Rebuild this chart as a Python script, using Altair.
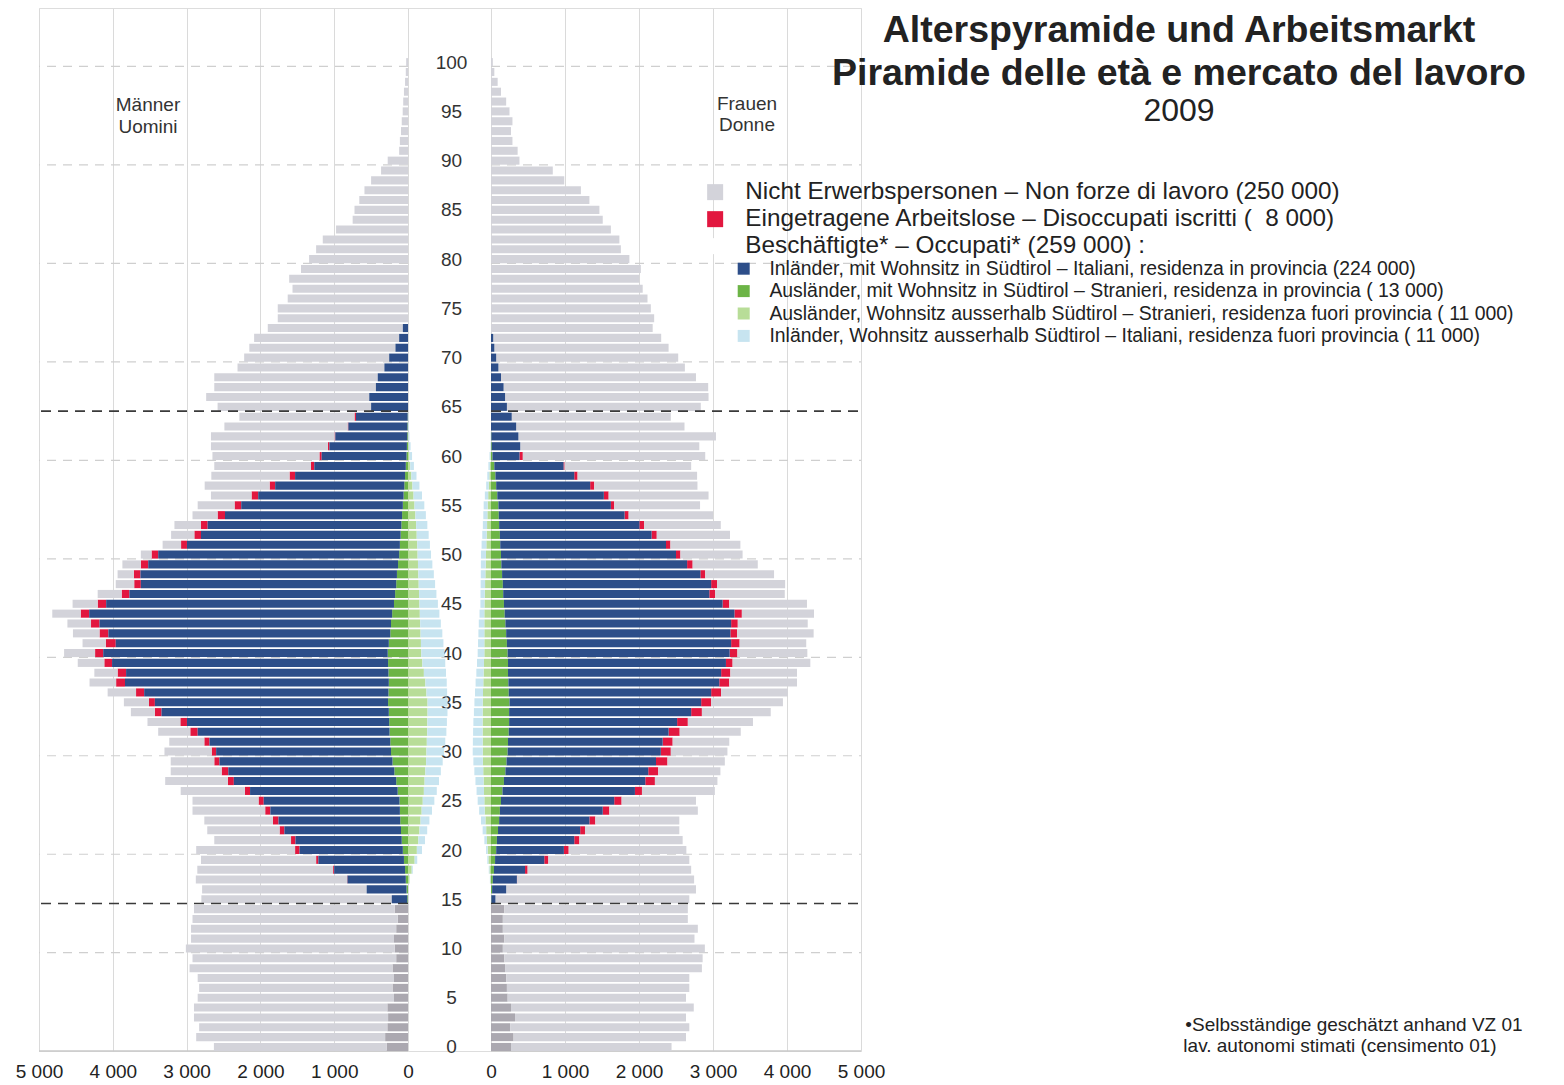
import altair as alt
import pandas as pd

FONT = "Liberation Sans"

ages = list(range(0, 101))
x_ticks = [0, 1000, 2000, 3000, 4000, 5000]
grid_ages = [10, 20, 30, 40, 50, 60, 70, 80, 90, 100]
limit_ages = [15, 65]

# ---------------- Männer / Uomini (per single year of age 0..100) ----------------
m_kinder = [290, 310, 280, 270, 280, 190, 210, 190, 210, 160, 180, 190, 160, 140, 180] + [0] * 86
m_nicht = [2340, 2560, 2550, 2630, 2620, 2660, 2620, 2660, 2750, 2760, 2830, 2750, 2780, 2780, 2720,
           2580, 2230, 2050, 1840, 1560, 1340, 1040, 980, 930, 985,
           895, 870, 850, 690, 590, 640, 475, 435, 445, 325,
           340, 385, 360, 315, 360, 420, 315, 360, 320, 385,
           340, 325, 250, 220, 250, 145, 250, 315, 360, 340,
           500, 550, 880, 1060, 1310, 1450, 1585, 1675, 1670, 1560,
           2080, 2210, 2190, 2215, 1990, 1965, 1980, 1965, 1830, 1765,
           1765, 1630, 1565, 1610, 1450, 1340, 1245, 1155, 975, 750,
           725, 660, 590, 500, 365, 275, 120, 110, 95, 85,
           72, 65, 55, 40, 30, 25]
m_arbeitslos = [0] * 15 + [0, 0, 5, 15, 30, 60, 60, 65, 75, 70,
                           70, 70, 80, 90, 70, 60, 70, 100, 90, 90,
                           80, 110, 120, 115, 105, 110, 135, 120, 115, 115,
                           115, 105, 90, 90, 100, 90, 80, 90, 90, 100,
                           90, 90, 75, 75, 45, 30, 20, 10, 10, 20] + [0] * 36
m_inl_res = [0] * 15 + [210, 540, 790, 960, 1160, 1400, 1440, 1580, 1650, 1755,
                        1840, 2000, 2200, 2250, 2345, 2370, 2450, 2600, 2740, 3080,
                        3160, 3310, 3575, 3555, 3740, 3855, 3700, 3820, 3950, 4105,
                        3900, 3600, 3460, 3475, 3385, 3265, 2885, 2705, 2625, 2400,
                        2190, 1970, 1750, 1490, 1240, 1150, 1050, 975, 800, 700,
                        500, 525, 435, 410, 320, 255, 170, 120, 70] + [0] * 27
m_ausl_res = [0] * 15 + [10, 20, 30, 40, 55, 70, 85, 95, 105, 110,
                         115, 140, 160, 185, 210, 230, 240, 250, 255, 260,
                         270, 265, 260, 265, 270, 275, 260, 240, 230, 215,
                         190, 175, 160, 150, 135, 120, 110, 100, 90, 80,
                         70, 60, 50, 40, 30, 20, 15, 10, 8, 5] + [0] * 36
m_ausl_out = [0] * 17 + [20, 50, 90, 120, 140, 155, 170, 185, 200, 215,
                         225, 235, 245, 250, 255, 260, 262, 265, 265, 250,
                         235, 215, 195, 180, 175, 170, 165, 160, 155, 150,
                         145, 140, 135, 130, 125, 118, 110, 100, 88, 75,
                         60, 45, 30, 20, 10, 5] + [0] * 38
m_inl_out = [0] * 17 + [5, 15, 35, 70, 90, 105, 120, 140, 157, 175,
                        195, 210, 225, 240, 250, 260, 265, 270, 272, 280,
                        290, 300, 310, 315, 305, 295, 280, 265, 250, 235,
                        222, 210, 195, 182, 172, 162, 152, 142, 133, 115,
                        95, 70, 50, 35, 25, 15, 10, 5] + [0] * 36

# ---------------- Frauen / Donne ----------------
f_kinder = [270, 305, 260, 325, 270, 225, 215, 205, 190, 180, 160, 180, 160, 160, 180] + [0] * 86
f_nicht = [2170, 2330, 2420, 2310, 2470, 2410, 2465, 2475, 2660, 2680, 2730, 2570, 2635, 2500, 2480,
           2620, 2565, 2390, 2210, 1905, 1590, 1395, 1275, 1135, 1195,
           1005, 985, 845, 840, 775, 765, 765, 825, 880, 930,
           970, 900, 915, 900, 1050, 945, 900, 1035, 945, 975,
           1050, 940, 920, 930, 880, 840, 945, 990, 1035, 1140,
           1160, 1350, 1395, 1615, 1710, 2465, 2420, 2670, 2275, 2150,
           2620, 2750, 2765, 2635, 2520, 2460, 2355, 2270, 2185, 2205,
           2160, 2115, 2050, 2005, 2025, 1870, 1755, 1735, 1620, 1510,
           1465, 1330, 1215, 990, 835, 385, 360, 290, 270, 290,
           250, 205, 135, 90, 45, 25]
f_arbeitslos = [0] * 17 + [5, 35, 55, 65, 70, 65, 80, 90, 100, 95,
                           130, 135, 155, 135, 135, 150, 145, 145, 135, 135,
                           135, 125, 90, 105, 115, 90, 90, 100, 90, 80,
                           80, 65, 75, 60, 60, 70, 65, 55, 45, 65,
                           55, 45, 15, 45] + [0] * 40
f_inl_res = [0] * 15 + [55, 190, 325, 420, 665, 915, 1045, 1110, 1220, 1390,
                        1530, 1790, 1910, 1930, 2020, 2070, 2090, 2160, 2270, 2460,
                        2590, 2735, 2850, 2880, 2945, 3000, 3030, 3030, 3050, 3105,
                        2955, 2785, 2815, 2680, 2510, 2365, 2240, 2050, 1895, 1700,
                        1520, 1440, 1270, 1065, 935, 365, 385, 365, 340, 280,
                        215, 190, 170, 135, 100, 70, 45, 30] + [0] * 28
f_ausl_res = [0] * 15 + [5, 15, 25, 40, 55, 70, 80, 95, 110, 120,
                         135, 155, 175, 195, 210, 225, 230, 240, 245, 245,
                         250, 240, 235, 230, 230, 225, 215, 205, 195, 185,
                         175, 165, 160, 150, 140, 135, 125, 120, 110, 105,
                         100, 85, 70, 60, 45, 20, 10, 5] + [0] * 38
f_ausl_out = [0] * 17 + [10, 20, 35, 45, 55, 65, 75, 85, 90, 95,
                         100, 105, 110, 112, 113, 114, 114, 113, 112, 108,
                         104, 100, 95, 90, 90, 90, 90, 90, 88, 84,
                         80, 76, 72, 68, 63, 58, 53, 49, 45, 38,
                         30, 22, 15, 8] + [0] * 40
f_inl_out = [0] * 17 + [5, 10, 15, 22, 35, 48, 60, 75, 90, 100,
                        110, 120, 128, 135, 132, 128, 124, 118, 112, 108,
                        104, 98, 94, 90, 85, 80, 75, 65, 55, 58,
                        60, 62, 65, 68, 64, 60, 57, 55, 54, 45,
                        35, 28, 20, 12, 8, 5] + [0] * 38

# ---------------- categories / colours ----------------
CAT_NICHT = "Nicht Erwerbspersonen \u2013 Non forze di lavoro (250 000)"
CAT_ALO = "Eingetragene Arbeitslose \u2013 Disoccupati iscritti (\u00a0 8 000)"
CAT_BESCH = "Besch\u00e4ftigte* \u2013 Occupati* (259 000) :"
CAT_KIDS = "unter 15 Jahren"
CAT_INL_RES = "Inl\u00e4nder, mit Wohnsitz in S\u00fcdtirol \u2013 Italiani, residenza in provincia (224 000)"
CAT_AUSL_RES = "Ausl\u00e4nder, mit Wohnsitz in S\u00fcdtirol \u2013 Stranieri, residenza in provincia ( 13 000)"
CAT_AUSL_OUT = "Ausl\u00e4nder, Wohnsitz ausserhalb S\u00fcdtirol \u2013 Stranieri, residenza fuori provincia ( 11 000)"
CAT_INL_OUT = "Inl\u00e4nder, Wohnsitz ausserhalb S\u00fcdtirol \u2013 Italiani, residenza fuori provincia ( 11 000)"

fill_domain = [CAT_NICHT, CAT_ALO, CAT_BESCH, CAT_KIDS]
fill_range = ["#d3d3da", "#e2173f", "#ffffff", "#aba8b0"]
color_domain = [CAT_INL_RES, CAT_AUSL_RES, CAT_AUSL_OUT, CAT_INL_OUT]
color_range = ["#2d4e89", "#6cb446", "#b8dd98", "#c7e4f0"]


def build(outward, inward):
    rows = []
    for i, a in enumerate(ages):
        s = 0
        for cat, grp, arr in outward:
            v = arr[i]
            if v > 0:
                rows.append({"age": a, "cat": cat, "grp": grp, "start": s, "end": s + v, "value": v})
            s += v
        s = 0
        for cat, grp, arr in inward:
            v = arr[i]
            if v > 0:
                rows.append({"age": a, "cat": cat, "grp": grp, "start": -s, "end": -(s + v), "value": v})
            s += v
    return pd.DataFrame(rows)


male_df = build(
    [(CAT_KIDS, "f", m_kinder), (CAT_AUSL_RES, "c", m_ausl_res), (CAT_INL_RES, "c", m_inl_res),
     (CAT_ALO, "f", m_arbeitslos), (CAT_NICHT, "f", m_nicht)],
    [(CAT_AUSL_OUT, "c", m_ausl_out), (CAT_INL_OUT, "c", m_inl_out)])
female_df = build(
    [(CAT_KIDS, "f", f_kinder), (CAT_AUSL_RES, "c", f_ausl_res), (CAT_INL_RES, "c", f_inl_res),
     (CAT_ALO, "f", f_arbeitslos), (CAT_NICHT, "f", f_nicht)],
    [(CAT_AUSL_OUT, "c", f_ausl_out), (CAT_INL_OUT, "c", f_inl_out)])

YSCALE = alt.Scale(domain=[-0.41, 105.5], nice=False, zero=False)
YAX = alt.Axis(values=list(range(0, 101, 5)), orient="left", offset=-412, domain=False,
               ticks=False, tickSize=0, grid=False, labelAlign="center", labelBaseline="middle",
               labelPadding=0, labelFontSize=19, labelFont=FONT, labelColor="#333",
               labelOverlap=False, title=None)

FILL_LEGEND = alt.Legend(title=None, orient="none", legendX=664, legendY=172,
                         values=[CAT_NICHT, CAT_ALO, CAT_BESCH], symbolType="square",
                         symbolSize=256, symbolStrokeWidth=0, labelFontSize=24.3, labelFont=FONT,
                         labelColor="#222", labelOffset=18, labelLimit=1500, rowPadding=2, padding=0)
COLOR_LEGEND = alt.Legend(title=None, orient="none", legendX=695, legendY=251,
                          symbolType="square", symbolSize=144, symbolStrokeWidth=0,
                          labelFontSize=19.4, labelFont=FONT, labelColor="#222", labelOffset=16,
                          labelLimit=1500, rowPadding=1.4, padding=0)
FILL = alt.Fill("cat:N", scale=alt.Scale(domain=fill_domain, range=fill_range), legend=FILL_LEGEND)
COLOR = alt.Color("cat:N", scale=alt.Scale(domain=color_domain, range=color_range), legend=COLOR_LEGEND)

lines_df = pd.DataFrame({"age": grid_ages, "x0": x_ticks[0], "x1": x_ticks[-1]})
limits_df = pd.DataFrame({"age": limit_ages, "x0": x_ticks[0], "x1": x_ticks[-1]})
base_df = pd.DataFrame({"age": [0], "x0": x_ticks[0], "x1": x_ticks[-1]})


def panel(df, xscale):
    xax = alt.Axis(values=x_ticks, orient="bottom", grid=True, gridColor="#dadada", gridWidth=1,
                   domain=False, ticks=False, tickSize=0, labelPadding=11, labelFontSize=19,
                   labelFont=FONT, labelColor="#222", labelFlush=False, labelOverlap=False,
                   labelExpr="replace(format(datum.value, ','), ',', ' ')", title=None)
    y_rule = alt.Y("gy:Q", scale=YSCALE, axis=YAX)
    light = alt.Chart(lines_df).transform_calculate(gy="datum.age - 0.43").mark_rule(
        color="#cfcfcf", strokeDash=[9, 7], strokeWidth=1.2).encode(
        x=alt.X("x0:Q", scale=xscale, axis=xax), x2="x1:Q", y=y_rule)
    baseline = alt.Chart(base_df).transform_calculate(gy="datum.age - 0.41").mark_rule(
        color="#c8c8c8", strokeWidth=1.5).encode(
        x=alt.X("x0:Q", scale=xscale, axis=xax), x2="x1:Q", y=y_rule)
    bars = alt.Chart(df).transform_calculate(lo="datum.age - 0.41", hi="datum.age + 0.41")
    bars_f = bars.transform_filter("datum.grp == 'f'").mark_rect(strokeWidth=0).encode(
        x=alt.X("start:Q", scale=xscale, axis=xax), x2="end:Q",
        y=alt.Y("lo:Q", scale=YSCALE, axis=YAX), y2="hi:Q", fill=FILL)
    bars_c = bars.transform_filter("datum.grp == 'c'").mark_rect(strokeWidth=0).encode(
        x=alt.X("start:Q", scale=xscale, axis=xax), x2="end:Q",
        y=alt.Y("lo:Q", scale=YSCALE, axis=YAX), y2="hi:Q", color=COLOR)
    dark = alt.Chart(limits_df).transform_calculate(gy="datum.age - 0.43").mark_rule(
        color="#3a3a3a", strokeDash=[10, 7], strokeWidth=1.6).encode(
        x=alt.X("x0:Q", scale=xscale, axis=xax), x2="x1:Q", y=y_rule)
    return alt.layer(light, baseline, bars_f, bars_c, dark)


male = panel(male_df, alt.Scale(domain=[-6138, 5000], reverse=True, nice=False, zero=False))
female = panel(female_df, alt.Scale(domain=[-6108, 5000], nice=False, zero=False))


def label(text, x, y, size, weight="normal", color="#222"):
    return alt.Chart(pd.DataFrame({"t": [text]})).mark_text(
        font=FONT, fontSize=size, fontWeight=weight, color=color, align="center",
        baseline="middle").encode(text="t:N", x=alt.value(x), y=alt.value(y))


texts = [
    label("Alterspyramide und Arbeitsmarkt", 1140, 23, 37.5, "bold"),
    label("Piramide delle et\u00e0 e mercato del lavoro", 1140, 66, 37.5, "bold"),
    label("2009", 1140, 103, 32),
    label("M\u00e4nner", 109, 97, 19, color="#333"),
    label("Uomini", 109, 119, 19, color="#333"),
    label("Frauen", 708, 96, 19, color="#333"),
    label("Donne", 708, 117, 19, color="#333"),
    label("\u2022Selbsst\u00e4ndige gesch\u00e4tzt anhand VZ 01", 1315, 1017, 19),
    label("lav. autonomi stimati (censimento 01)", 1301, 1038, 19),
]

chart = alt.layer(male, female, *texts).resolve_scale(x="independent").properties(
    width=822, height=1043,
    padding={"left": 7, "top": 0, "right": 0, "bottom": 0},
).configure_view(stroke=None).configure(background="white")

chart.save("out.html", embed_options={"renderer": "svg", "actions": False})
